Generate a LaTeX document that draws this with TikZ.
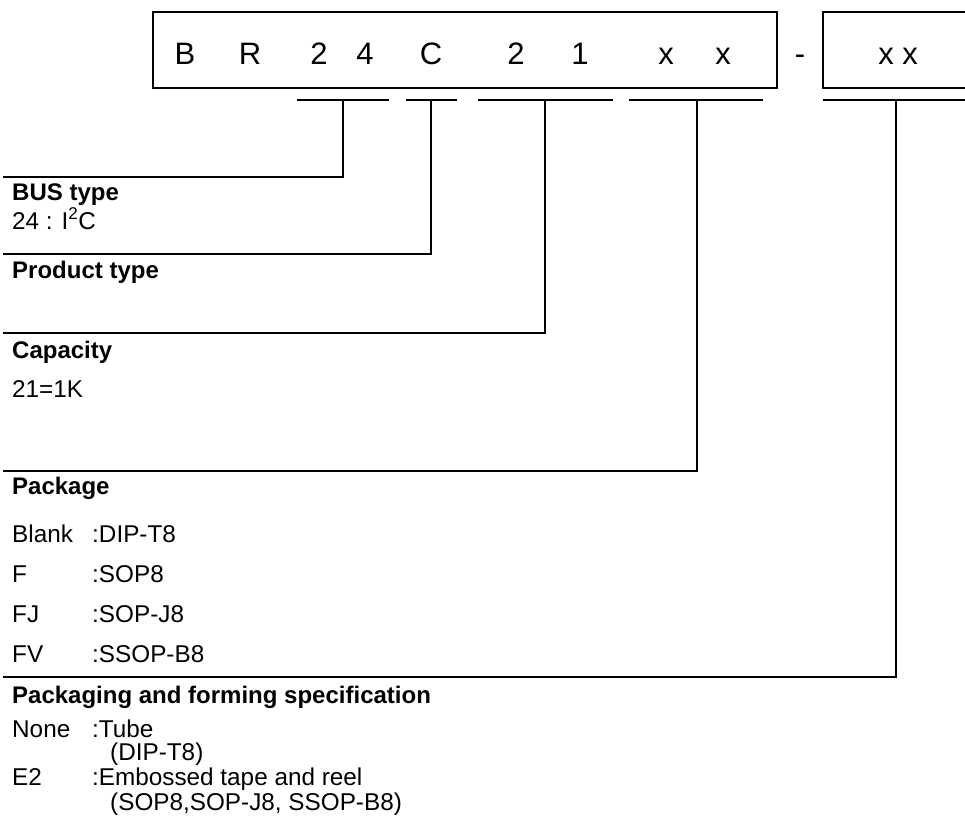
\documentclass[tikz,border=0pt]{standalone}
\usepackage{fontspec}
\setmainfont{Liberation Sans}
\begin{document}
\begin{tikzpicture}[x=1pt, y=-1pt, line join=miter]
	\tikzset{code/.style={inner sep=0pt, anchor=base, font=\fontsize{31}{31}\selectfont},
		head/.style={inner sep=0pt, anchor=base west, font=\fontsize{24}{28}\selectfont\bfseries},
		item/.style={inner sep=0pt, anchor=base west, font=\fontsize{24.3}{28}\selectfont},
		frame/.style={line width=2pt},
		lead/.style={line width=2.6pt}}
	\useasboundingbox (0,0) rectangle (965,825);
	% part number boxes
	\draw[frame] (153,12) rectangle (777,88);
	\draw[frame] (968,12) -- (823,12) -- (823,88) -- (968,88);
	\foreach \c/\x [count=\i] in {B/185, R/250, 2/319, 4/365, C/431, 2/516, 1/580, x/666, x/723}
		\node[code] (c\i) at (\x,64) {\c};
	\node[code] (dash) at (800,64) {-};
	\node[code] (d1) at (886,64) {x};
	\node[code] (d2) at (910,64) {x};
	% underlines
	\foreach \a/\b in {297/389, 406/457, 478/613, 629/763, 823/968}
		\draw[lead] (\a,100) -- (\b,100);
	% leaders to the fields
	\foreach \n/\x/\y in {bus/343/177, prod/431/254, cap/545/333, pack/697/471, spec/896/677}{
		\coordinate (\n T) at (\x,100);
		\coordinate (\n L) at (3,\y);
		\draw[lead] (\n T) |- (\n L);
	}
	% fields
	\node[head] (bus) at (12,200) {BUS type};
	\node[item] (busv) at (12,229) {24 : I\textsuperscript{2}C};
	\node[head] (prod) at (12,278) {Product type};
	\node[head] (cap) at (12,358) {Capacity};
	\node[item] (capv) at (12,397) {21=1K};
	\node[head] (pack) at (12,494) {Package};
	\foreach \k/\v/\y in {Blank/DIP-T8/542, F/SOP8/582, FJ/SOP-J8/622, FV/SSOP-B8/662}{
		\node[item] (k\y) at (12,\y) {\k};
		\node[item] (v\y) at (92,\y) {:\v};
	}
	\node[head] (spec) at (12,703) {Packaging and forming specification};
	\node[item] (none) at (12,737) {None};
	\node[item] (tube) at (92,737) {:Tube};
	\node[item] (tubep) at (110,760) {(DIP-T8)};
	\node[item] (etwo) at (12,785) {E2};
	\node[item] (reel) at (92,785) {:Embossed tape and reel};
	\node[item] (reelp) at (110,810) {(SOP8,SOP-J8, SSOP-B8)};
\end{tikzpicture}
\end{document}
